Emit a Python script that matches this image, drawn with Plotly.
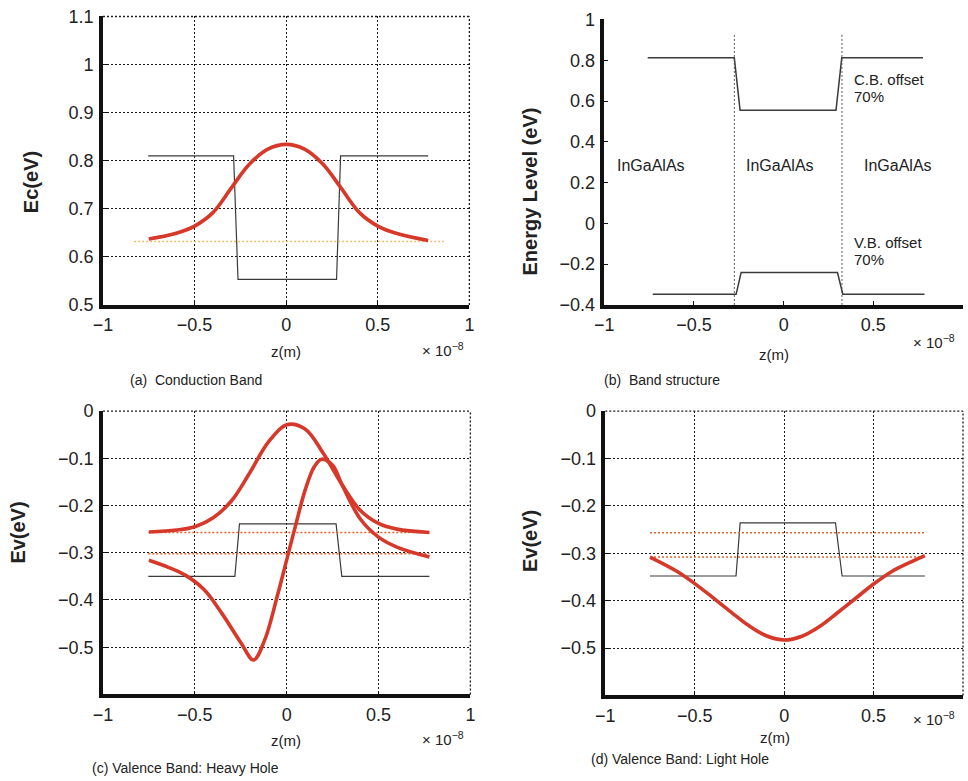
import plotly.graph_objects as go

W, H = 968, 781

# ---------------- data (z in units of 1e-8 m, energies in eV) ----------------
x_tickvals = [-1, -0.5, 0, 0.5, 1]
x_ticktext = ["\u22121", "\u22120.5", "0", "0.5", "1"]

# (a) conduction band
a_yticks = [0.5, 0.6, 0.7, 0.8, 0.9, 1.0, 1.1]
a_ytext = ["0.5", "0.6", "0.7", "0.8", "0.9", "1", "1.1"]
a_pot_z = [-0.753, -0.287, -0.263, 0.275, 0.297, 0.775]
a_pot_e = [0.81, 0.81, 0.553, 0.553, 0.81, 0.81]
a_wf_z = [-0.75, -0.6, -0.5, -0.4, -0.3, -0.2, -0.1, 0.0, 0.1, 0.2, 0.3, 0.4, 0.5, 0.6, 0.775]
a_wf_e = [0.637, 0.649, 0.664, 0.692, 0.743, 0.793, 0.824, 0.834, 0.824, 0.793, 0.743, 0.692, 0.664, 0.649, 0.634]
a_level_z = [-0.83, 0.86]
a_level_e = [0.632, 0.632]

# (b) band structure
b_yticks = [-0.4, -0.2, 0, 0.2, 0.4, 0.6, 0.8, 1.0]
b_ytext = ["\u22120.4", "\u22120.2", "0", "0.2", "0.4", "0.6", "0.8", "1"]
b_cb_z = [-0.758, -0.275, -0.243, 0.292, 0.324, 0.777]
b_cb_e = [0.812, 0.812, 0.555, 0.555, 0.812, 0.812]
b_vb_z = [-0.73, -0.265, -0.237, 0.300, 0.330, 0.785]
b_vb_e = [-0.348, -0.348, -0.241, -0.241, -0.348, -0.348]
b_iface_z = [-0.275, 0.325]
b_iface_e = [-0.4, 0.934]
b_layer_names = ["InGaAlAs", "InGaAlAs", "InGaAlAs"]
b_layer_z = [-0.74, -0.02, 0.64]
b_layer_e = [0.283, 0.283, 0.283]
b_offset_text = ["C.B. offset", "70%", "V.B. offset", "70%"]
b_offset_z = [0.38, 0.38, 0.38, 0.38]
b_offset_e = [0.707, 0.622, -0.093, -0.178]

# (c) valence band, heavy hole
v_yticks = [-0.5, -0.4, -0.3, -0.2, -0.1, 0]
v_ytext = ["\u22120.5", "\u22120.4", "\u22120.3", "\u22120.2", "\u22120.1", "0"]
c_pot_z = [-0.753, -0.282, -0.257, 0.269, 0.300, 0.777]
c_pot_e = [-0.35, -0.35, -0.239, -0.239, -0.35, -0.35]
c_level_z = [-0.753, 0.777]
c_level1_e = [-0.257, -0.257]
c_level2_e = [-0.302, -0.302]
c_wf1_z = [-0.75, -0.6, -0.5, -0.4, -0.3, -0.2, -0.1, 0.0, 0.1, 0.2, 0.3, 0.4, 0.5, 0.6, 0.777]
c_wf1_e = [-0.256, -0.252, -0.245, -0.226, -0.19, -0.13, -0.066, -0.029, -0.038, -0.09, -0.155, -0.21, -0.238, -0.25, -0.257]
c_wf2_z = [-0.75, -0.65, -0.55, -0.45, -0.35, -0.25, -0.18, -0.12, -0.05, 0.0, 0.05, 0.1, 0.15, 0.19, 0.25, 0.3, 0.4, 0.5, 0.6, 0.777]
c_wf2_e = [-0.316, -0.330, -0.348, -0.378, -0.43, -0.49, -0.527, -0.485, -0.39, -0.315, -0.24, -0.168, -0.118, -0.102, -0.115, -0.155, -0.228, -0.267, -0.288, -0.309]

# (d) valence band, light hole
d_pot_z = [-0.75, -0.269, -0.246, 0.287, 0.324, 0.787]
d_pot_e = [-0.348, -0.348, -0.236, -0.236, -0.348, -0.348]
d_level_z = [-0.75, 0.787]
d_level1_e = [-0.257, -0.257]
d_level2_e = [-0.308, -0.308]
d_wf_z = [-0.75, -0.6, -0.5, -0.4, -0.3, -0.2, -0.1, 0.0, 0.1, 0.2, 0.3, 0.4, 0.5, 0.6, 0.7, 0.787]
d_wf_e = [-0.308, -0.338, -0.364, -0.393, -0.423, -0.452, -0.474, -0.483, -0.475, -0.454, -0.425, -0.395, -0.365, -0.339, -0.320, -0.305]

# ---------------- styles ----------------
FONT = "Liberation Sans, Arial, sans-serif"
RED = "#d6392a"
POT = "#3a3a3a"
LEVEL_A = "#e8bf6a"
LEVEL_V = "#e0642f"
GRID_DASH = "2px,2px"
GRID_COLOR = "#1a1a1a"

# small correction for the page-to-picture scaling observed in the render
SX, SY, CX, CY = 0.978, 0.973, 484, 390


def px(x):
    return (CX + (x - CX) / SX) / W


def py(y):
    return 1 - (CY + (y - CY) / SY) / H


def dom(a, b):
    return [max(0.0, min(1.0, a)), max(0.0, min(1.0, b))]


fig = go.Figure()


def add_line(z, e, ax, color, width, dash="solid", shape="linear"):
    fig.add_trace(go.Scatter(
        x=z, y=e, mode="lines", xaxis="x" + ax, yaxis="y" + ax,
        line=dict(color=color, width=width, dash=dash, shape=shape, smoothing=1.0),
        hoverinfo="skip", showlegend=False))


# (a)
add_line(a_pot_z, a_pot_e, "", POT, 1.2)
add_line(a_level_z, a_level_e, "", LEVEL_A, 1.6, GRID_DASH)
add_line(a_wf_z, a_wf_e, "", RED, 3.6, shape="spline")
# (b)
add_line(b_cb_z, b_cb_e, "2", POT, 1.5)
add_line(b_vb_z, b_vb_e, "2", POT, 1.5)
for zi in b_iface_z:
    add_line([zi, zi], b_iface_e, "2", "#555555", 1, GRID_DASH)
# (c)
add_line(c_pot_z, c_pot_e, "3", POT, 1.2)
add_line(c_level_z, c_level1_e, "3", LEVEL_V, 1.5, GRID_DASH)
add_line(c_level_z, c_level2_e, "3", LEVEL_V, 1.5, GRID_DASH)
add_line(c_wf1_z, c_wf1_e, "3", RED, 3.6, shape="spline")
add_line(c_wf2_z, c_wf2_e, "3", RED, 3.6, shape="spline")
# (d)
add_line(d_pot_z, d_pot_e, "4", POT, 1.2)
add_line(d_level_z, d_level1_e, "4", LEVEL_V, 1.5, GRID_DASH)
add_line(d_level_z, d_level2_e, "4", LEVEL_V, 1.5, GRID_DASH)
add_line(d_wf_z, d_wf_e, "4", RED, 3.6, shape="spline")


def xaxis(d, anchor, grid=True):
    return dict(domain=d, anchor=anchor, range=[-1, 1], tickvals=x_tickvals, ticktext=x_ticktext,
                showline=True, linewidth=3.5, linecolor="#111", mirror=False, zeroline=False,
                showgrid=grid, gridcolor=GRID_COLOR, griddash=GRID_DASH, gridwidth=1.3,
                ticks="inside", ticklen=4, tickcolor="#111", ticklabelstandoff=1,
                tickfont=dict(family=FONT, size=18, color="#222"))


def yaxis(d, anchor, rng, tv, tt, grid=True):
    return dict(domain=d, anchor=anchor, range=rng, tickvals=tv, ticktext=tt,
                showline=True, linewidth=3.5, linecolor="#111", mirror=False, zeroline=False,
                showgrid=grid, gridcolor=GRID_COLOR, griddash=GRID_DASH, gridwidth=1.3,
                ticks="inside", ticklen=4, tickcolor="#111", ticklabelstandoff=2,
                tickfont=dict(family=FONT, size=18, color="#222"))


fig.update_layout(
    width=W, height=H, margin=dict(l=0, r=0, t=0, b=0),
    paper_bgcolor="white", plot_bgcolor="rgba(0,0,0,0)", showlegend=False,
    xaxis=xaxis(dom(px(103), px(467)), "y"),
    yaxis=yaxis(dom(py(305), py(17)), "x", [0.5, 1.1], a_yticks, a_ytext),
    xaxis2=xaxis(dom(px(601), px(959)), "y2", grid=False),
    yaxis2=yaxis(dom(py(305), py(20)), "x2", [-0.4, 1.0], b_yticks, b_ytext, grid=False),
    xaxis3=xaxis(dom(px(103), px(468)), "y3"),
    yaxis3=yaxis(dom(py(694), py(411)), "x3", [-0.6, 0], v_yticks, v_ytext),
    xaxis4=xaxis(dom(px(602), px(962)), "y4"),
    yaxis4=yaxis(dom(py(695), py(411)), "x4", [-0.6, 0], v_yticks, v_ytext),
)

# dotted top and right frame edges (grid lines at the last ticks) for (a), (c), (d)
shapes = []
for ax in ["", "3", "4"]:
    shapes.append(dict(type="line", xref="x%s domain" % ax, yref="y%s domain" % ax,
                       x0=0, x1=1, y0=1, y1=1, line=dict(color=GRID_COLOR, width=1.3, dash=GRID_DASH)))
    shapes.append(dict(type="line", xref="x%s domain" % ax, yref="y%s domain" % ax,
                       x0=1, x1=1, y0=0, y1=1, line=dict(color=GRID_COLOR, width=1.3, dash=GRID_DASH)))
fig.update_layout(shapes=shapes)

ann = []


def note(text, x, y, size=15, xanchor="center", bold=False, angle=0, color="#222"):
    if bold:
        text = "<b>" + text + "</b>"
    ann.append(dict(text=text, x=px(x), y=py(y), xref="paper", yref="paper", showarrow=False,
                    xanchor=xanchor, yanchor="middle", textangle=angle,
                    font=dict(family=FONT, size=size, color=color)))


# axis titles
note("Ec(eV)", 31, 182, 20, bold=True, angle=-90)
note("Energy Level (eV)", 527, 192, 20, bold=True, angle=-90)
note("Ev(eV)", 19, 532, 20, bold=True, angle=-90)
note("Ev(eV)", 527, 541, 20, bold=True, angle=-90)
# z(m) labels
note("z(m)", 285, 352, 15)
note("z(m)", 770, 355, 15)
note("z(m)", 285, 740, 15)
note("z(m)", 771, 737, 15)
# exponent labels
for (xr, yr) in [(464, 350), (951, 342), (464, 738), (951, 718)]:
    note("\u00d7 10<sup>\u22128</sup>", xr, yr, 15, xanchor="right")
# captions
note("(a)  Conduction Band", 128, 380, 14, xanchor="left")
note("(b)  Band structure", 599, 380, 14, xanchor="left")
note("(c) Valence Band: Heavy Hole", 90, 767, 14, xanchor="left")
note("(d) Valence Band: Light Hole", 586, 758, 14, xanchor="left")

# layer labels in (b)
for t, zx, ey in zip(b_layer_names, b_layer_z, b_layer_e):
    ann.append(dict(text=t, x=zx, y=ey, xref="x2", yref="y2", showarrow=False,
                    font=dict(family=FONT, size=16, color="#222")))
for t, zx, ey in zip(b_offset_text, b_offset_z, b_offset_e):
    ann.append(dict(text=t, x=zx, y=ey, xref="x2", yref="y2", showarrow=False, xanchor="left",
                    font=dict(family=FONT, size=15, color="#222")))

fig.update_layout(annotations=ann)
fig.write_html("out.html", config={"displayModeBar": False},
               post_script="document.body.style.margin='0';document.body.style.overflow='hidden';")
